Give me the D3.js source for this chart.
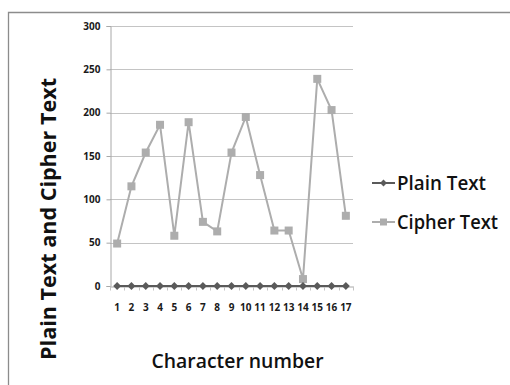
<!DOCTYPE html>
<html>
<head>
<meta charset="utf-8">
<script src="https://cdn.jsdelivr.net/npm/d3@7"></script>
<style>
  html, body { margin: 0; padding: 0; background: #fff; }
  svg { display: block; }
</style>
</head>
<body>
<svg id="chart" width="510" height="385"></svg>
<script>
// Character positions 1..17
const characters = d3.range(1, 18).map(String);
// Value of each plain-text character
const plainText = [0, 0, 0, 0, 0, 0, 0, 0, 0, 0, 0, 0, 0, 0, 0, 0, 0];
// Value of each cipher-text character
const cipherText = [49, 115, 154, 186, 58, 189, 74, 63, 154, 195, 128, 64, 64, 8, 239, 203, 81];
const yTicks = [0, 50, 100, 150, 200, 250, 300];
const seriesNames = ["Plain Text", "Cipher Text"];

const svg = d3.select("#chart");
const font = "'Open Sans', Lato, sans-serif";

// outer frame (top and left edges)
svg.append("path")
  .attr("d", "M8.5,385 V12.5 H510")
  .attr("fill", "none")
  .attr("stroke", "#8c8c8c")
  .attr("stroke-width", 1.3);

const plot = { left: 110, right: 353, top: 26, bottom: 286 };

const x = d3.scaleBand().domain(characters).range([plot.left, plot.right]);
const y = d3.scaleLinear().domain([0, 300]).range([plot.bottom, plot.top]);

// horizontal gridlines
svg.append("g")
  .selectAll("line")
  .data(yTicks.filter(t => t > 0))
  .join("line")
  .attr("x1", plot.left).attr("x2", plot.right)
  .attr("y1", d => Math.round(y(d)) + 0.5).attr("y2", d => Math.round(y(d)) + 0.5)
  .attr("stroke", "#c4c4c4").attr("stroke-width", 1);

// y axis
const yAxis = svg.append("g")
  .attr("transform", `translate(${plot.left + 0.5},0)`)
  .call(d3.axisLeft(y).tickValues(yTicks).tickSize(4).tickPadding(6));
yAxis.select(".domain").attr("stroke", "#a8a8a8");
yAxis.selectAll(".tick line").attr("stroke", "#a8a8a8");
yAxis.selectAll(".tick text")
  .attr("font-family", font).attr("font-weight", "bold")
  .attr("font-size", 10).attr("fill", "#1a1a1a");

// x axis with tick marks at category boundaries
const xAxis = svg.append("g")
  .attr("transform", `translate(0,${plot.bottom + 0.5})`)
  .call(d3.axisBottom(x).tickSize(0).tickPadding(17.5));
xAxis.select(".domain").attr("stroke", "#a8a8a8");
xAxis.selectAll(".tick text")
  .attr("font-family", font).attr("font-weight", "bold")
  .attr("font-size", 10).attr("fill", "#1a1a1a");
xAxis.selectAll(".boundary")
  .data(characters.concat(["end"]))
  .join("line")
  .attr("class", "boundary")
  .attr("x1", (d, i) => Math.round(plot.left + i * x.bandwidth()) + 0.5)
  .attr("x2", (d, i) => Math.round(plot.left + i * x.bandwidth()) + 0.5)
  .attr("y1", 0).attr("y2", 4)
  .attr("stroke", "#c4c4c4");

const cx = d => x(d) + x.bandwidth() / 2;
const line = d3.line().x((d, i) => cx(characters[i])).y(d => y(d));

// cipher text series
const cipherColor = "#adadad";
svg.append("path")
  .datum(cipherText)
  .attr("d", line)
  .attr("fill", "none").attr("stroke", cipherColor).attr("stroke-width", 2);
svg.append("g")
  .selectAll("rect")
  .data(cipherText)
  .join("rect")
  .attr("x", (d, i) => cx(characters[i]) - 4)
  .attr("y", d => y(d) - 4)
  .attr("width", 8).attr("height", 8)
  .attr("fill", cipherColor);

// plain text series
const plainColor = "#5a5a5a";
svg.append("path")
  .datum(plainText)
  .attr("d", line)
  .attr("fill", "none").attr("stroke", plainColor).attr("stroke-width", 2);
const diamond = d3.symbol().type(d3.symbolDiamond2).size(40);
svg.append("g")
  .selectAll("path")
  .data(plainText)
  .join("path")
  .attr("d", diamond)
  .attr("transform", (d, i) => `translate(${cx(characters[i])},${y(d)})`)
  .attr("fill", plainColor);

// legend
const legend = svg.append("g");
const legendRows = [
  { name: seriesNames[0], color: plainColor, y: 183, marker: "diamond", w: 89 },
  { name: seriesNames[1], color: cipherColor, y: 222, marker: "square", w: 101 }
];
legendRows.forEach(r => {
  legend.append("line")
    .attr("x1", 372).attr("x2", 395).attr("y1", r.y).attr("y2", r.y)
    .attr("stroke", r.color).attr("stroke-width", 2);
  if (r.marker === "diamond") {
    legend.append("path")
      .attr("d", d3.symbol().type(d3.symbolDiamond2).size(30))
      .attr("transform", `translate(383.5,${r.y})`)
      .attr("fill", r.color);
  } else {
    legend.append("rect")
      .attr("x", 380).attr("y", r.y - 3.5).attr("width", 7).attr("height", 7)
      .attr("fill", r.color);
  }
  legend.append("text")
    .attr("x", 397).attr("y", r.y)
    .attr("dy", "0.36em")
    .attr("font-family", font).attr("font-weight", 600).attr("font-size", 19)
    .attr("textLength", r.w).attr("lengthAdjust", "spacingAndGlyphs")
    .attr("fill", "#111")
    .text(r.name);
});

// axis titles
svg.append("text")
  .attr("transform", "translate(56,219) rotate(-90)")
  .attr("text-anchor", "middle")
  .attr("font-family", font).attr("font-weight", "bold").attr("font-size", 21)
  .attr("textLength", 282).attr("lengthAdjust", "spacingAndGlyphs")
  .attr("fill", "#111")
  .text("Plain Text and Cipher Text");

svg.append("text")
  .attr("x", 237.5).attr("y", 368)
  .attr("text-anchor", "middle")
  .attr("font-family", font).attr("font-weight", 600).attr("font-size", 20)
  .attr("textLength", 172).attr("lengthAdjust", "spacingAndGlyphs")
  .attr("fill", "#111")
  .text("Character number");
</script>
</body>
</html>
